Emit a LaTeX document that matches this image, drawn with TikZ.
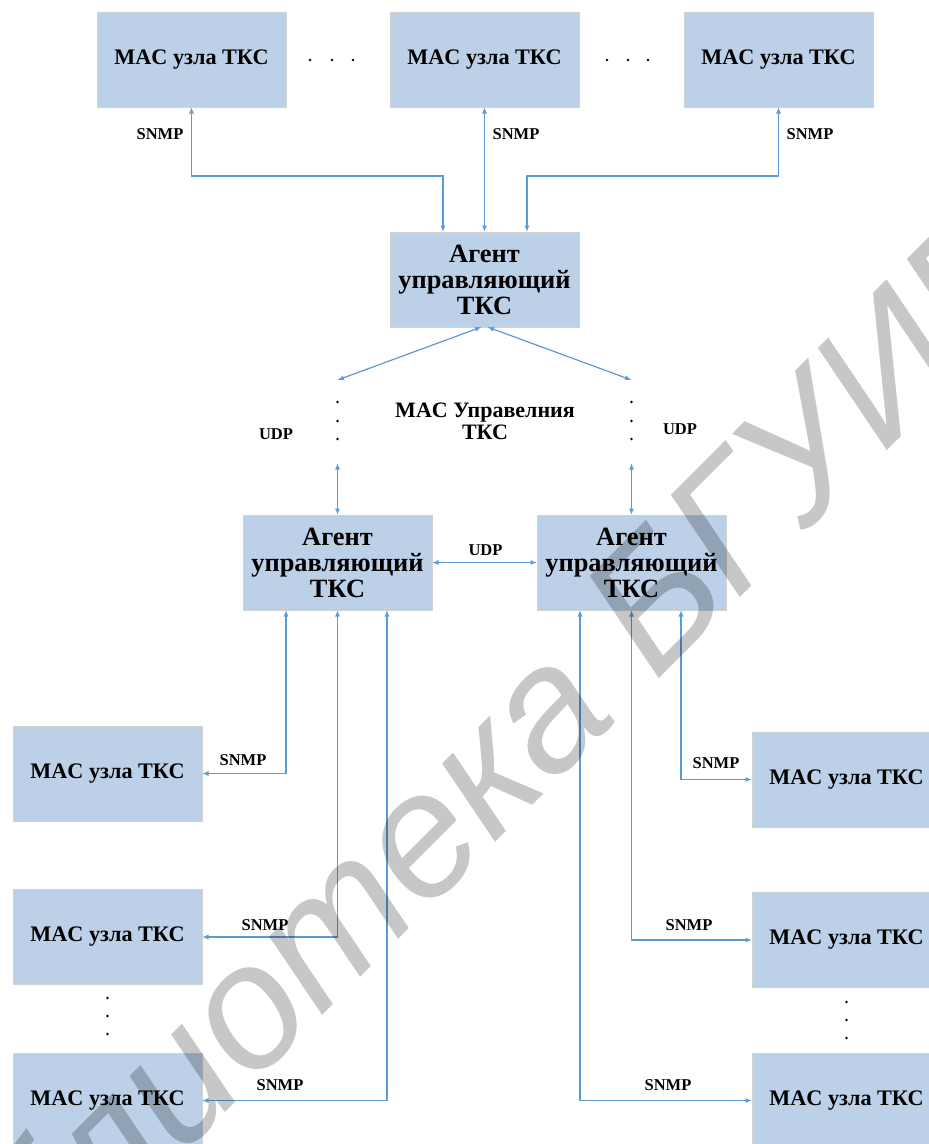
\documentclass[tikz,border=0pt]{standalone}
\usepackage{fontspec}
\setmainfont{Liberation Serif}
\newfontfamily\wmfont{Liberation Sans}
\usetikzlibrary{arrows.meta}
\definecolor{boxfill}{RGB}{188,208,232}
\definecolor{boxline}{RGB}{210,210,210}
\definecolor{linkblue}{RGB}{91,155,213}
\begin{document}
\begin{tikzpicture}[x=1pt,y=-1pt,inner sep=0pt,outer sep=0pt,
macbox/.style={draw=boxline,fill=boxfill,line width=0.8pt,minimum width=189pt,minimum height=95pt,font=\fontsize{22.2}{25}\selectfont\bfseries},
agent/.style={macbox,align=center,font=\fontsize{26.4}{26}\selectfont\bfseries},
link/.style={draw=linkblue,line width=1.2pt,{Latex[length=6.5pt,width=5pt]}-{Latex[length=6.5pt,width=5pt]}},
proto/.style={font=\fontsize{16.5}{18}\selectfont\bfseries}]
\useasboundingbox (0,0) rectangle (929,1144);
\clip (0,0) rectangle (929,1144);
\draw (191.5,59.5) node[macbox] (mac1) {MAC узла ТКС};
\draw (484.5,59.5) node[macbox] (mac2) {MAC узла ТКС};
\draw (778.5,59.5) node[macbox] (mac3) {MAC узла ТКС};
\draw (484.5,279.5) node[agent] (agent0) {Агент\\управляющий\\ТКС};
\draw (337.5,562.5) node[agent] (agentL) {Агент\\управляющий\\ТКС};
\draw (631.5,562.5) node[agent] (agentR) {Агент\\управляющий\\ТКС};
\draw (107.5,773.5) node[macbox] (macL1) {MAC узла ТКС};
\draw (107.5,937) node[macbox] (macL2) {MAC узла ТКС};
\draw (107.5,1100.5) node[macbox] (macL3) {MAC узла ТКС};
\draw (846.5,779.5) node[macbox] (macR1) {MAC узла ТКС};
\draw (846.5,940) node[macbox] (macR2) {MAC узла ТКС};
\draw (846.5,1100.5) node[macbox] (macR3) {MAC узла ТКС};
\coordinate (udpL) at (337.5,380);
\coordinate (udpR) at (631.5,380);
\coordinate (udpLb) at (337.5,463);
\coordinate (udpRb) at (631.5,463);
\draw[link] (mac1.south) -- ++(0,69) -| ([xshift=-41.5pt]agent0.north);
\draw[link] (mac2.south) -- (agent0.north);
\draw[link] (mac3.south) -- ++(0,69) -| ([xshift=42.5pt]agent0.north);
\draw[link] ([xshift=-3pt]agent0.south) -- (udpL);
\draw[link] ([xshift=3pt]agent0.south) -- (udpR);
\draw[link] (udpLb) -- (agentL.north);
\draw[link] (udpRb) -- (agentR.north);
\draw[link] (agentL.east) -- (agentR.west);
\draw[link] ([xshift=-51.5pt]agentL.south) |- (macL1.east);
\draw[link] (agentL.south) |- (macL2.east);
\draw[link] ([xshift=49.5pt]agentL.south) |- (macL3.east);
\draw[link] ([xshift=49.5pt]agentR.south) |- (macR1.west);
\draw[link] (agentR.south) |- (macR2.west);
\draw[link] ([xshift=-51.5pt]agentR.south) |- (macR3.west);
% labels
\draw (160,134) node[proto] (snmp1) {SNMP};
\draw (516,134) node[proto] (snmp2) {SNMP};
\draw (810,134) node[proto] (snmp3) {SNMP};
\draw (276,434) node[proto] (udp1) {UDP};
\draw (680,429) node[proto] (udp2) {UDP};
\draw (485.5,550) node[proto] (udp3) {UDP};
\draw (485,421) node[align=center,font=\fontsize{22}{22}\selectfont\bfseries] (mgmt) {MAC Управелния\\ТКС};
\draw (243,760) node[proto] (snmpL1) {SNMP};
\draw (265,925) node[proto] (snmpL2) {SNMP};
\draw (280,1085) node[proto] (snmpL3) {SNMP};
\draw (716,763) node[proto] (snmpR1) {SNMP};
\draw (689,925) node[proto] (snmpR2) {SNMP};
\draw (668,1085) node[proto] (snmpR3) {SNMP};
% dots
\foreach \x in {310,332,353,607,628,648} \fill (\x,60) circle (1.3pt);
\foreach \y in {402,421,439} {\fill (337.5,\y) circle (1.3pt); \fill (631.5,\y) circle (1.3pt);}
\foreach \y in {998,1016,1034} \fill (107.5,\y) circle (1.3pt);
\foreach \y in {1002,1020,1038} \fill (846.5,\y) circle (1.3pt);
\node[rotate=45,font=\wmfont\fontsize{176}{176}\selectfont\itshape,text=black,text opacity=0.22] (wm) at (430,818) {Библиотека БГУИР};
\end{tikzpicture}
\end{document}
